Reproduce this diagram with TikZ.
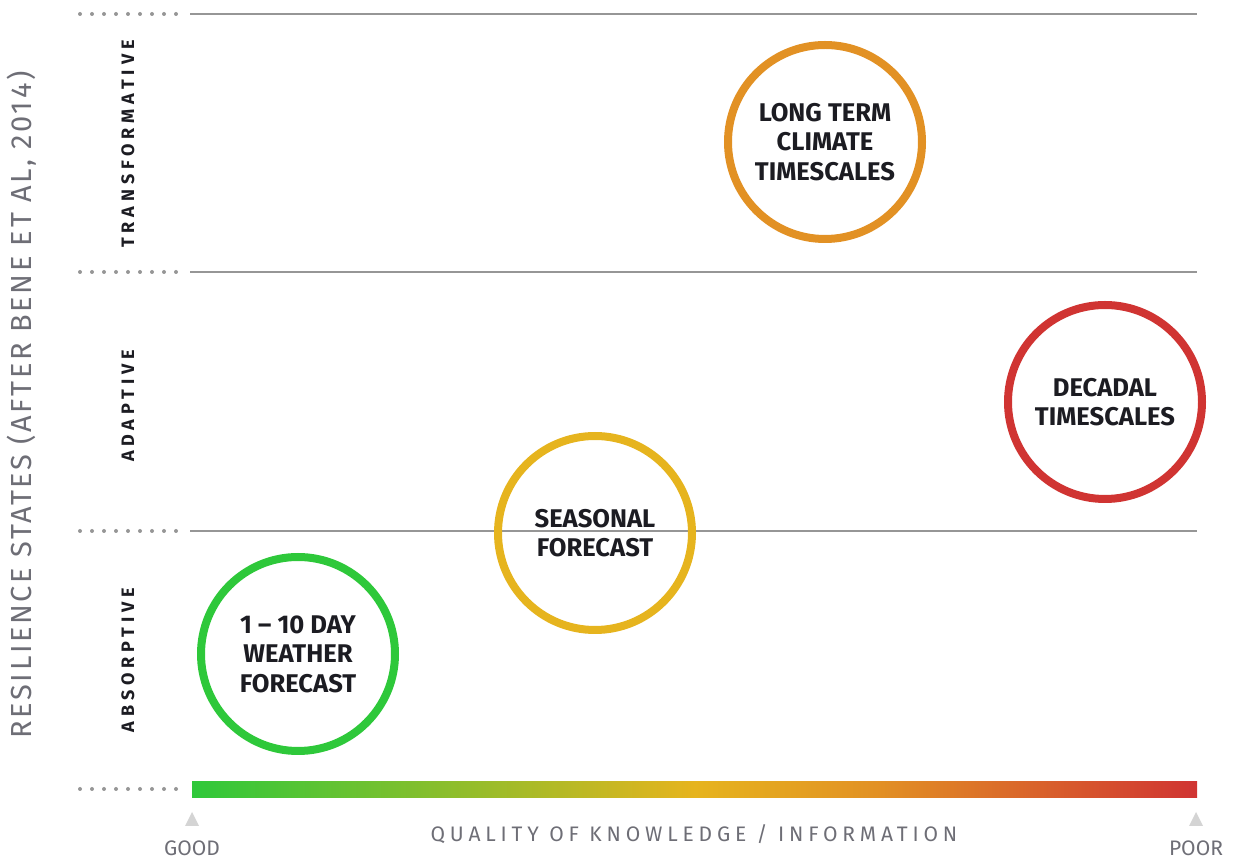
\documentclass[tikz,border=0pt]{standalone}
\usepackage{fontspec}
\setmainfont{Fira Sans}
\usepackage{xcolor}
\usetikzlibrary{positioning,calc}
\definecolor{gridgray}{RGB}{150,150,150}
\definecolor{labelgray}{RGB}{110,110,118}
\definecolor{tickgray}{RGB}{212,212,212}
\definecolor{textdark}{RGB}{28,28,34}
\definecolor{cgreen}{RGB}{46,200,58}
\definecolor{cyellow}{RGB}{230,180,30}
\definecolor{corange}{RGB}{226,145,36}
\definecolor{cred}{RGB}{208,52,50}
\pgfdeclarehorizontalshading{qualitybar}{100bp}{%
	color(0bp)=(cgreen); color(25bp)=(cgreen); color(50bp)=(cyellow); color(59bp)=(corange); color(75bp)=(cred); color(100bp)=(cred)}
\tikzset{%
	stateline/.style = {draw=gridgray, line width=0.9pt}, % band separator
	dotlead/.style   = {draw=gridgray, line width=2pt, line cap=round, dash pattern=on 0pt off 6pt}, % dotted lead-in
	timescale/.style = {draw, circle, line width=4pt, minimum size=97pt, inner sep=0pt, align=center,
	                    font=\bfseries\fontsize{12.8}{14.75}\selectfont, text=textdark},
	statelabel/.style= {rotate=90, font=\bfseries\fontsize{9}{10}\selectfont\addfontfeatures{LetterSpace=27}, text=textdark},
	axislabel/.style = {font=\fontsize{10.5}{12}\selectfont\addfontfeatures{LetterSpace=23}, text=labelgray},
	endlabel/.style  = {font=\fontsize{10.5}{12}\selectfont, text=labelgray},
}
\begin{document}
\begin{tikzpicture}[x=0.5pt,y=-0.5pt]
	\useasboundingbox (0,0) rectangle (1233,860);
	% band boundaries
	\foreach \yy in {14,272,531} {
		\draw[dotlead] (80,\yy) -- (180,\yy);
		\draw[stateline] (190,\yy) -- (1197,\yy);
	}
	\draw[dotlead] (80,789) -- (180,789);
	% quality bar
	\shade[shading=qualitybar] (192,782) rectangle (1197,798);
	\coordinate (good) at (192,812);
	\coordinate (poor) at (1196,812);
	\fill[tickgray] (good) -- ++(-7,14) -- ++(14,0) -- cycle;
	\fill[tickgray] (poor) -- ++(-7,14) -- ++(14,0) -- cycle;
	\node[endlabel] (goodtext) at (192,848) {GOOD};
	\node[endlabel] (poortext) at (1196,848) {POOR};
	\node[axislabel] (quality) at (694,834) {QUALITY OF KNOWLEDGE / INFORMATION};
	% state axis
	\node[rotate=90, font=\fontsize{14.5}{16}\selectfont\addfontfeatures{LetterSpace=9}, text=labelgray] (states) at (22,405) {RESILIENCE STATES (AFTER BENE ET AL, 2014)};
	\node[statelabel] (transf) at (128,144) {TRANSFORMATIVE};
	\node[statelabel] (adapt) at (128,406) {ADAPTIVE};
	\node[statelabel] (absorb) at (128,660) {ABSORPTIVE};
	% timescales
	\node[timescale, draw=corange] (longterm) at (825,142) {LONG TERM\\CLIMATE\\TIMESCALES};
	\node[timescale, draw=cred] (decadal) at (1105,402) {DECADAL\\TIMESCALES};
	\node[timescale, draw=cyellow] (seasonal) at (595,533) {SEASONAL\\FORECAST};
	\node[timescale, draw=cgreen] (weather) at (298,654) {1 – 10 DAY\\WEATHER\\FORECAST};
\end{tikzpicture}
\end{document}
